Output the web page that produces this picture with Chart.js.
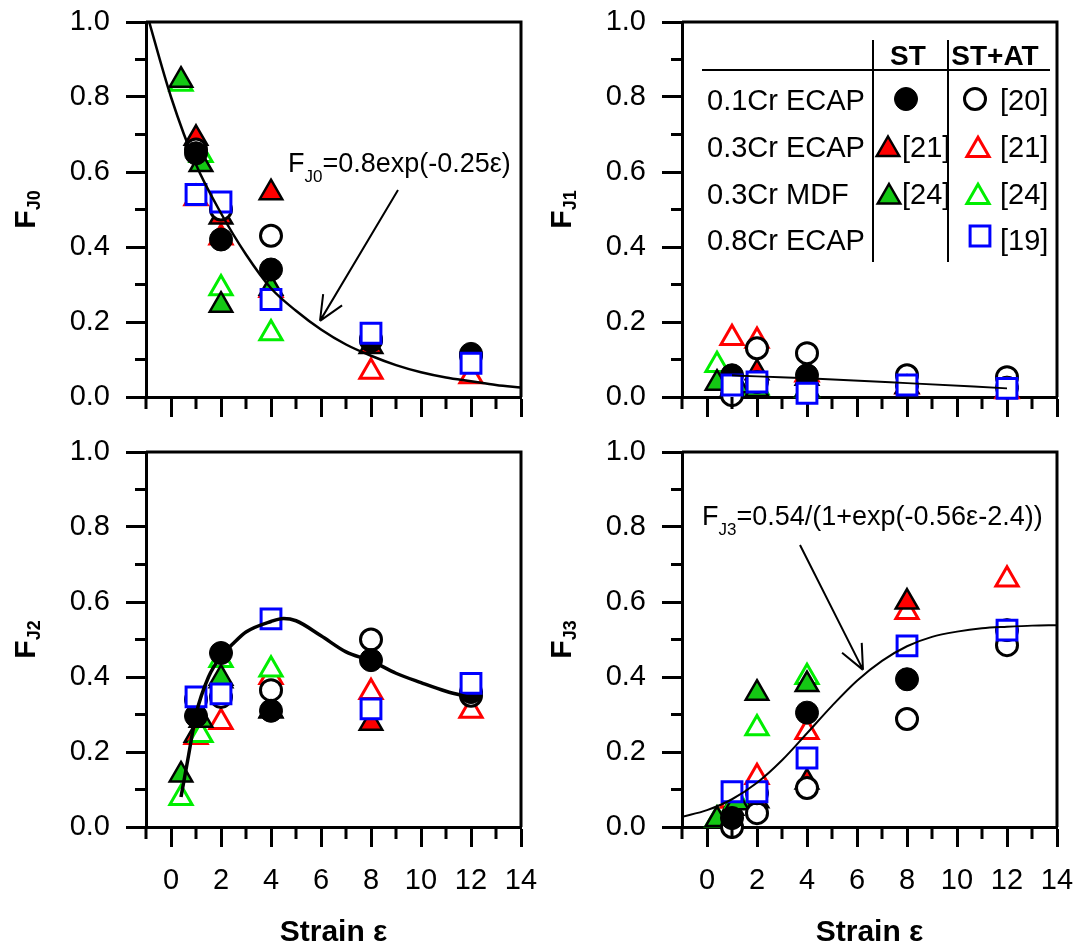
<!DOCTYPE html>
<html>
<head>
<meta charset="utf-8">
<script src="https://cdn.jsdelivr.net/npm/chart.js@4.4.1/dist/chart.umd.min.js"></script>
<style>
  html, body { margin: 0; padding: 0; background: #fff; }
  #wrap { position: relative; width: 1075px; height: 949px; overflow: hidden; }
  #wrap canvas { position: absolute; }
</style>
</head>
<body>
<div id="wrap">
  <canvas id="p0" width="540" height="430" style="left:0;top:0;width:540px;height:430px"></canvas>
  <canvas id="p1" width="535" height="430" style="left:540px;top:0;width:535px;height:430px"></canvas>
  <canvas id="p2" width="540" height="521" style="left:0;top:430px;width:540px;height:521px"></canvas>
  <canvas id="p3" width="535" height="521" style="left:540px;top:430px;width:535px;height:521px"></canvas>
</div>
<script>
const FONT = "'Liberation Sans', Arial, sans-serif";
Chart.defaults.font.family = FONT;
Chart.defaults.color = '#000';

// strains the samples were taken at
const strainECAP = [1, 2, 4, 8, 12];
const strainCr03ST = [1, 2, 4, 8];
const strainMDF = [0.4, 1.2, 2, 4];

// F_J0
const j0Cr01ST = [0.65, 0.42, 0.34, 0.15, 0.115];
const j0Cr01AT = [0.66, 0.50, 0.43, 0.154, 0.11];
const j0Cr03ST = [0.69, 0.48, 0.545, 0.135];
const j0Cr03AT = [0.53, 0.425, 0.285, 0.067, 0.055];
const j0MdfST = [0.845, 0.62, 0.245, 0.29];
const j0MdfAT = [0.835, 0.645, 0.29, 0.17];
const j0Cr08AT = [0.54, 0.52, 0.26, 0.17, 0.09];

// F_J1
const j1Cr01ST = [0.058, 0.04, 0.058, 0.03, 0.025];
const j1Cr01AT = [0.005, 0.13, 0.117, 0.058, 0.053];
const j1Cr03ST = [0.02, 0.065, 0.05, 0.028];
const j1Cr03AT = [0.157, 0.15, 0.06, 0.028, 0.015];
const j1MdfST = [0.037, 0.03, 0.02, 0.02];
const j1MdfAT = [0.085, 0.03, 0.025, 0.02];
const j1Cr08AT = [0.032, 0.04, 0.01, 0.032, 0.023];

// F_J2
const j2Cr01ST = [0.296, 0.464, 0.31, 0.445, 0.36];
const j2Cr01AT = [0.34, 0.347, 0.365, 0.50, 0.35];
const j2Cr03ST = [0.245, 0.39, 0.31, 0.277];
const j2Cr03AT = [0.24, 0.28, 0.40, 0.36, 0.31];
const j2MdfST = [0.139, 0.285, 0.397, 0.31];
const j2MdfAT = [0.077, 0.245, 0.445, 0.42];
const j2Cr08AT = [0.347, 0.355, 0.555, 0.315, 0.383];

// F_J3
const j3Cr01ST = [0.024, 0.09, 0.305, 0.394, 0.525];
const j3Cr01AT = [0.0, 0.037, 0.104, 0.288, 0.485];
const j3Cr03ST = [0.05, 0.07, 0.12, 0.60];
const j3Cr03AT = [0.07, 0.133, 0.253, 0.573, 0.66];
const j3MdfST = [0.02, 0.065, 0.357, 0.38];
const j3MdfAT = [0.02, 0.07, 0.263, 0.40];
const j3Cr08AT = [0.094, 0.094, 0.184, 0.483, 0.525];

// fitted curves
const fitStrainFull = [-1, 0, 1, 2, 3, 4, 5, 6, 7, 8, 9, 10, 11, 12, 13, 14];
const fitJ0 = [1.03, 0.80, 0.62, 0.49, 0.38, 0.29, 0.23, 0.18, 0.14, 0.11, 0.085, 0.066, 0.052, 0.042, 0.032, 0.025];
const fitJ1Strain = [1, 2, 4, 8, 12];
const fitJ1 = [0.058, 0.055, 0.05, 0.037, 0.023];
const fitJ2Strain = [0.4, 0.7, 1, 1.5, 2, 2.5, 3, 4, 4.5, 5, 6, 7, 8, 9, 10, 11, 12];
const fitJ2 = [0.08, 0.19, 0.30, 0.40, 0.455, 0.49, 0.52, 0.548, 0.556, 0.55, 0.51, 0.467, 0.443, 0.41, 0.385, 0.362, 0.345];
const fitJ3 = [0.027, 0.045, 0.074, 0.118, 0.178, 0.25, 0.323, 0.39, 0.443, 0.482, 0.507, 0.521, 0.53, 0.534, 0.537, 0.538];

const pts = (xs, ys) => xs.map((x, i) => ({ x: x, y: ys[i] }));

const GREEN = '#14c814';
const GREEN_LINE = '#00ee00';

const styles = {
  cr01ST: { pointStyle: 'circle', pointRadius: 11.5, backgroundColor: '#000', borderColor: '#000', borderWidth: 1 },
  cr01AT: { pointStyle: 'circle', pointRadius: 10.5, backgroundColor: '#fff', borderColor: '#000', borderWidth: 3 },
  cr03ST: { pointStyle: 'triangle', pointRadius: 13, backgroundColor: '#ff0000', borderColor: '#000', borderWidth: 2.5 },
  cr03AT: { pointStyle: 'triangle', pointRadius: 12.8, backgroundColor: '#fff', borderColor: '#ff0000', borderWidth: 3 },
  mdfST: { pointStyle: 'triangle', pointRadius: 13, backgroundColor: GREEN, borderColor: '#000', borderWidth: 2.5 },
  mdfAT: { pointStyle: 'triangle', pointRadius: 12.8, backgroundColor: '#fff', borderColor: GREEN_LINE, borderWidth: 3 },
  cr08AT: { pointStyle: 'rect', pointRadius: 14, backgroundColor: '#fff', borderColor: '#0000ff', borderWidth: 3 }
};

function marks(xs, ys, style) {
  return Object.assign({ data: pts(xs, ys), clip: false, pointHoverRadius: style.pointRadius }, style);
}

// first dataset ends up on top
function panelSets(fitX, fitY, fitWidth, cr01ST, cr01AT, cr03ST, cr03AT, mdfST, mdfAT, cr08AT) {
  return [
    { data: pts(fitX, fitY), showLine: true, borderColor: '#000', borderWidth: fitWidth,
      pointRadius: 0, cubicInterpolationMode: 'monotone' },
    marks(strainECAP, cr08AT, styles.cr08AT),
    marks(strainECAP, cr01ST, styles.cr01ST),
    marks(strainECAP, cr01AT, styles.cr01AT),
    marks(strainMDF, mdfST, styles.mdfST),
    marks(strainMDF, mdfAT, styles.mdfAT),
    marks(strainCr03ST, cr03ST, styles.cr03ST),
    marks(strainECAP, cr03AT, styles.cr03AT)
  ];
}

const isMajorX = v => Math.round(v) % 2 === 0;
const isMajorY = v => Math.round(v * 10) % 2 === 0;

function shape(ctx, s, x, y) {
  const r = s.pointRadius;
  ctx.beginPath();
  if (s.pointStyle === 'circle') {
    ctx.arc(x, y, r, 0, Math.PI * 2);
  } else if (s.pointStyle === 'rect') {
    const h = r * Math.SQRT1_2;
    ctx.rect(x - h, y - h, 2 * h, 2 * h);
  } else {
    ctx.moveTo(x, y - r);
    ctx.lineTo(x + r * 0.866, y + r / 2);
    ctx.lineTo(x - r * 0.866, y + r / 2);
    ctx.closePath();
  }
  ctx.fillStyle = s.backgroundColor;
  ctx.fill();
  ctx.lineWidth = s.borderWidth;
  ctx.strokeStyle = s.borderColor;
  ctx.stroke();
}

function equation(ctx, x, y, head, sub, rest) {
  ctx.textAlign = 'left';
  ctx.textBaseline = 'alphabetic';
  ctx.fillStyle = '#000';
  ctx.font = '27px ' + FONT;
  ctx.fillText(head, x, y);
  let w = ctx.measureText(head).width;
  ctx.font = '17px ' + FONT;
  ctx.fillText(sub, x + w, y + 10);
  w += ctx.measureText(sub).width;
  ctx.font = '27px ' + FONT;
  ctx.fillText(rest, x + w, y);
}

function arrow(ctx, x1, y1, x2, y2) {
  const ang = Math.atan2(y2 - y1, x2 - x1);
  ctx.lineWidth = 2;
  ctx.strokeStyle = '#000';
  ctx.beginPath();
  ctx.moveTo(x1, y1);
  ctx.lineTo(x2, y2);
  for (const s of [-1, 1]) {
    const a = ang + Math.PI + s * 0.42;
    ctx.moveTo(x2, y2);
    ctx.lineTo(x2 + 27 * Math.cos(a), y2 + 27 * Math.sin(a));
  }
  ctx.stroke();
}

function yTitle(ctx, cx, cy, sub) {
  const big = 'bold 30px ' + FONT, small = 'bold 18px ' + FONT;
  ctx.font = big;
  const w1 = ctx.measureText('F').width;
  ctx.font = small;
  const w2 = ctx.measureText(sub).width;
  ctx.save();
  ctx.translate(cx, cy);
  ctx.rotate(-Math.PI / 2);
  ctx.textAlign = 'left';
  ctx.textBaseline = 'alphabetic';
  ctx.fillStyle = '#000';
  const x0 = -(w1 + w2) / 2;
  ctx.font = big;
  ctx.fillText('F', x0, 10.7);
  ctx.font = small;
  ctx.fillText(sub, x0 + w1, 16);
  ctx.restore();
}

function drawLegend(ctx, a) {
  const L = a.left, T = a.top;
  ctx.strokeStyle = '#000';
  ctx.lineWidth = 2;
  ctx.beginPath();
  ctx.moveTo(L + 20, T + 48); ctx.lineTo(L + 368, T + 48);
  ctx.moveTo(L + 191, T + 18); ctx.lineTo(L + 191, T + 240);
  ctx.moveTo(L + 266, T + 18); ctx.lineTo(L + 266, T + 240);
  ctx.stroke();

  ctx.fillStyle = '#000';
  ctx.textBaseline = 'alphabetic';
  ctx.font = 'bold 28px ' + FONT;
  ctx.textAlign = 'center';
  ctx.fillText('ST', L + 226, T + 43);
  ctx.fillText('ST+AT', L + 313, T + 43);

  ctx.font = '29px ' + FONT;
  ctx.textAlign = 'left';
  const rows = ['0.1Cr ECAP', '0.3Cr ECAP', '0.3Cr MDF', '0.8Cr ECAP'];
  const base = [88, 135, 182, 228];
  rows.forEach((t, i) => ctx.fillText(t, L + 25, T + base[i]));
  ctx.fillText('[21]', L + 220, T + base[1]);
  ctx.fillText('[24]', L + 220, T + base[2]);
  ctx.fillText('[20]', L + 318, T + base[0]);
  ctx.fillText('[21]', L + 318, T + base[1]);
  ctx.fillText('[24]', L + 318, T + base[2]);
  ctx.fillText('[19]', L + 318, T + base[3]);

  shape(ctx, styles.cr01ST, L + 224, T + 77);
  shape(ctx, styles.cr03ST, L + 206, T + 124.5 + 3);
  shape(ctx, styles.mdfST, L + 207, T + 172 + 3);
  shape(ctx, styles.cr01AT, L + 293, T + 77);
  shape(ctx, styles.cr03AT, L + 296, T + 125 + 3);
  shape(ctx, styles.mdfAT, L + 296, T + 172 + 3);
  shape(ctx, styles.cr08AT, L + 298, T + 214);
}

function decor(cfg) {
  return {
    id: 'decor',
    afterDraw(chart) {
      const ctx = chart.ctx, a = chart.chartArea;
      const xs = chart.scales.x, ys = chart.scales.y;
      ctx.save();
      ctx.strokeStyle = '#000';
      ctx.lineWidth = 3;
      ctx.beginPath();
      // closing top and right sides of the box
      ctx.moveTo(a.left, a.top);
      ctx.lineTo(a.right, a.top);
      ctx.lineTo(a.right, a.bottom);
      // short minor ticks
      xs.ticks.forEach(t => {
        if (isMajorX(t.value)) return;
        const px = xs.getPixelForValue(t.value);
        ctx.moveTo(px, a.bottom);
        ctx.lineTo(px, a.bottom + 12);
      });
      ys.ticks.forEach(t => {
        if (isMajorY(t.value)) return;
        const py = ys.getPixelForValue(t.value);
        ctx.moveTo(a.left, py);
        ctx.lineTo(a.left - 11, py);
      });
      ctx.stroke();

      yTitle(ctx, a.left - 122, (a.top + a.bottom) / 2, cfg.sub);

      if (cfg.note) {
        const n = cfg.note;
        equation(ctx, xs.getPixelForValue(n.tx), ys.getPixelForValue(n.ty), 'F', n.sub, n.rest);
        arrow(ctx, xs.getPixelForValue(n.from[0]), ys.getPixelForValue(n.from[1]),
          xs.getPixelForValue(n.to[0]), ys.getPixelForValue(n.to[1]));
      }
      if (cfg.legend) drawLegend(ctx, a);
      ctx.restore();
    }
  };
}

function makePanel(id, p) {
  return new Chart(document.getElementById(id), {
    type: 'scatter',
    data: { datasets: p.datasets },
    options: {
      responsive: false,
      animation: false,
      events: [],
      layout: { padding: { left: 0, right: p.rightPad, top: 22, bottom: 0 } },
      plugins: { legend: { display: false }, tooltip: { enabled: false } },
      scales: {
        x: {
          type: 'linear',
          min: -1,
          max: 14,
          // fixed box, no room reserved for label overhang
          afterFit: s => { s.height = p.xHeight; s.paddingLeft = 0; s.paddingRight = 0; },
          border: { display: true, color: '#000', width: 3 },
          grid: {
            drawOnChartArea: false,
            tickLength: 20,
            tickWidth: 3,
            tickColor: c => isMajorX(c.tick.value) ? '#000' : 'rgba(0,0,0,0)'
          },
          ticks: {
            display: p.showX,
            stepSize: 1,
            autoSkip: false,
            maxRotation: 0,
            padding: 17,
            font: { size: 29 },
            color: '#000',
            callback: v => (v >= 0 && isMajorX(v)) ? String(v) : ''
          },
          title: {
            display: p.showX,
            text: 'Strain ε',
            font: { size: 30, weight: 'bold' },
            padding: 0
          }
        },
        y: {
          min: 0,
          max: 1,
          afterFit: s => { s.width = p.yWidth; s.paddingTop = 0; s.paddingBottom = 0; },
          border: { display: true, color: '#000', width: 3 },
          grid: {
            drawOnChartArea: false,
            tickLength: 20,
            tickWidth: 3,
            tickColor: c => isMajorY(c.tick.value) ? '#000' : 'rgba(0,0,0,0)'
          },
          ticks: {
            stepSize: 0.1,
            autoSkip: false,
            padding: 16,
            font: { size: 29 },
            color: '#000',
            callback: v => isMajorY(v) ? v.toFixed(1) : ''
          }
        }
      }
    },
    plugins: [decor(p)]
  });
}

makePanel('p0', {
  yWidth: 146, rightPad: 19, xHeight: 33, showX: false, sub: 'J0',
  datasets: panelSets(fitStrainFull, fitJ0, 2.5, j0Cr01ST, j0Cr01AT, j0Cr03ST, j0Cr03AT, j0MdfST, j0MdfAT, j0Cr08AT),
  note: { tx: 4.68, ty: 0.60, sub: 'J0', rest: '=0.8exp(-0.25ε)', from: [9.08, 0.552], to: [5.96, 0.203] }
});

makePanel('p1', {
  yWidth: 142, rightPad: 18, xHeight: 33, showX: false, sub: 'J1', legend: true,
  datasets: panelSets(fitJ1Strain, fitJ1, 2, j1Cr01ST, j1Cr01AT, j1Cr03ST, j1Cr03AT, j1MdfST, j1MdfAT, j1Cr08AT)
});

makePanel('p2', {
  yWidth: 146, rightPad: 19, xHeight: 124, showX: true, sub: 'J2',
  datasets: panelSets(fitJ2Strain, fitJ2, 3.5, j2Cr01ST, j2Cr01AT, j2Cr03ST, j2Cr03AT, j2MdfST, j2MdfAT, j2Cr08AT)
});

makePanel('p3', {
  yWidth: 142, rightPad: 18, xHeight: 124, showX: true, sub: 'J3',
  datasets: panelSets(fitStrainFull, fitJ3, 2, j3Cr01ST, j3Cr01AT, j3Cr03ST, j3Cr03AT, j3MdfST, j3MdfAT, j3Cr08AT),
  note: { tx: -0.2, ty: 0.805, sub: 'J3', rest: '=0.54/(1+exp(-0.56ε-2.4))', from: [3.72, 0.752], to: [6.24, 0.419] }
});
</script>
</body>
</html>
